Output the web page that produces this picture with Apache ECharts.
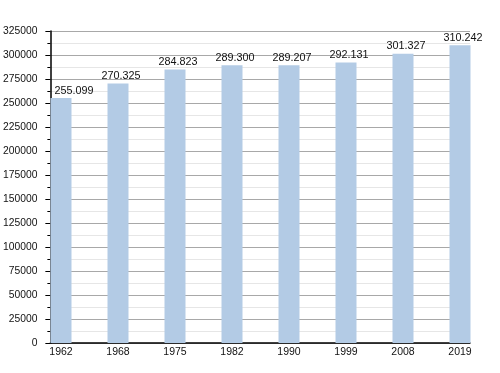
<!DOCTYPE html>
<html><head><meta charset="utf-8">
<script src="https://cdn.jsdelivr.net/npm/echarts@6/dist/echarts.min.js"></script>
<style>html,body{margin:0;padding:0;background:#fff}#c{width:500px;height:373px}</style>
</head><body><div id="c"></div>
<script>
var years = ['1962','1968','1975','1982','1990','1999','2008','2019'];
var population = [255099, 270325, 284823, 289300, 289207, 292131, 301327, 310242];
var yTicks = [0,25000,50000,75000,100000,125000,150000,175000,200000,225000,250000,275000,300000,325000];

function fmt(v){ return String(v).replace(/\B(?=(\d{3})+(?!\d))/g, '.'); }

var FONT = 'Liberation Sans, Arial, sans-serif';
var chart = echarts.init(document.getElementById('c'), null, {renderer:'canvas'});
var barData = population.map(function(v,i){
  return {value:v, label:{offset: i===0 ? [13,0] : [3,0]}};
});
chart.setOption({
  animation:false,
  backgroundColor:'#fff',
  grid:[
    {left:50, right:30, top:31, bottom:30},
    {left:32.5, right:11.5, top:31, bottom:30}
  ],
  xAxis:[
    {type:'category', gridIndex:0, data:years, axisLine:{show:true, lineStyle:{color:'#000', width:1.5}},
     axisTick:{show:false}, axisLabel:{show:false}, splitLine:{show:false}},
    {type:'category', gridIndex:1, data:years, axisLine:{show:false}, axisTick:{show:false},
     axisLabel:{margin:4, color:'#111', fontSize:10.5, fontFamily:FONT}, splitLine:{show:false}}
  ],
  yAxis:[
    {type:'value', gridIndex:0, min:yTicks[0], max:yTicks[yTicks.length-1], interval:yTicks[1]-yTicks[0],
     axisLine:{show:true, lineStyle:{color:'#000', width:1.5}},
     axisTick:{show:true, length:5, lineStyle:{color:'#000'}},
     minorTick:{show:true, splitNumber:2, length:3, lineStyle:{color:'#000'}},
     axisLabel:{margin:13, color:'#111', fontSize:10.3, fontFamily:FONT,
       formatter:function(v){ return String(v); }},
     splitLine:{show:true, lineStyle:{color:'#a8a8a8', width:1}},
     minorSplitLine:{show:true, lineStyle:{color:'#e6e6e6', width:1}}},
    {type:'value', gridIndex:1, min:yTicks[0], max:yTicks[yTicks.length-1], interval:yTicks[1]-yTicks[0],
     axisLine:{show:false}, axisTick:{show:false}, axisLabel:{show:false}, splitLine:{show:false}}
  ],
  series:[{
    type:'bar', xAxisIndex:1, yAxisIndex:1, data:barData, barWidth:21,
    itemStyle:{color:'#b3cbe5'},
    label:{show:true, position:'top', distance:2, color:'#111', fontSize:10.8, fontFamily:FONT,
      formatter:function(p){ return fmt(p.value); }}
  }]
});
</script></body></html>
